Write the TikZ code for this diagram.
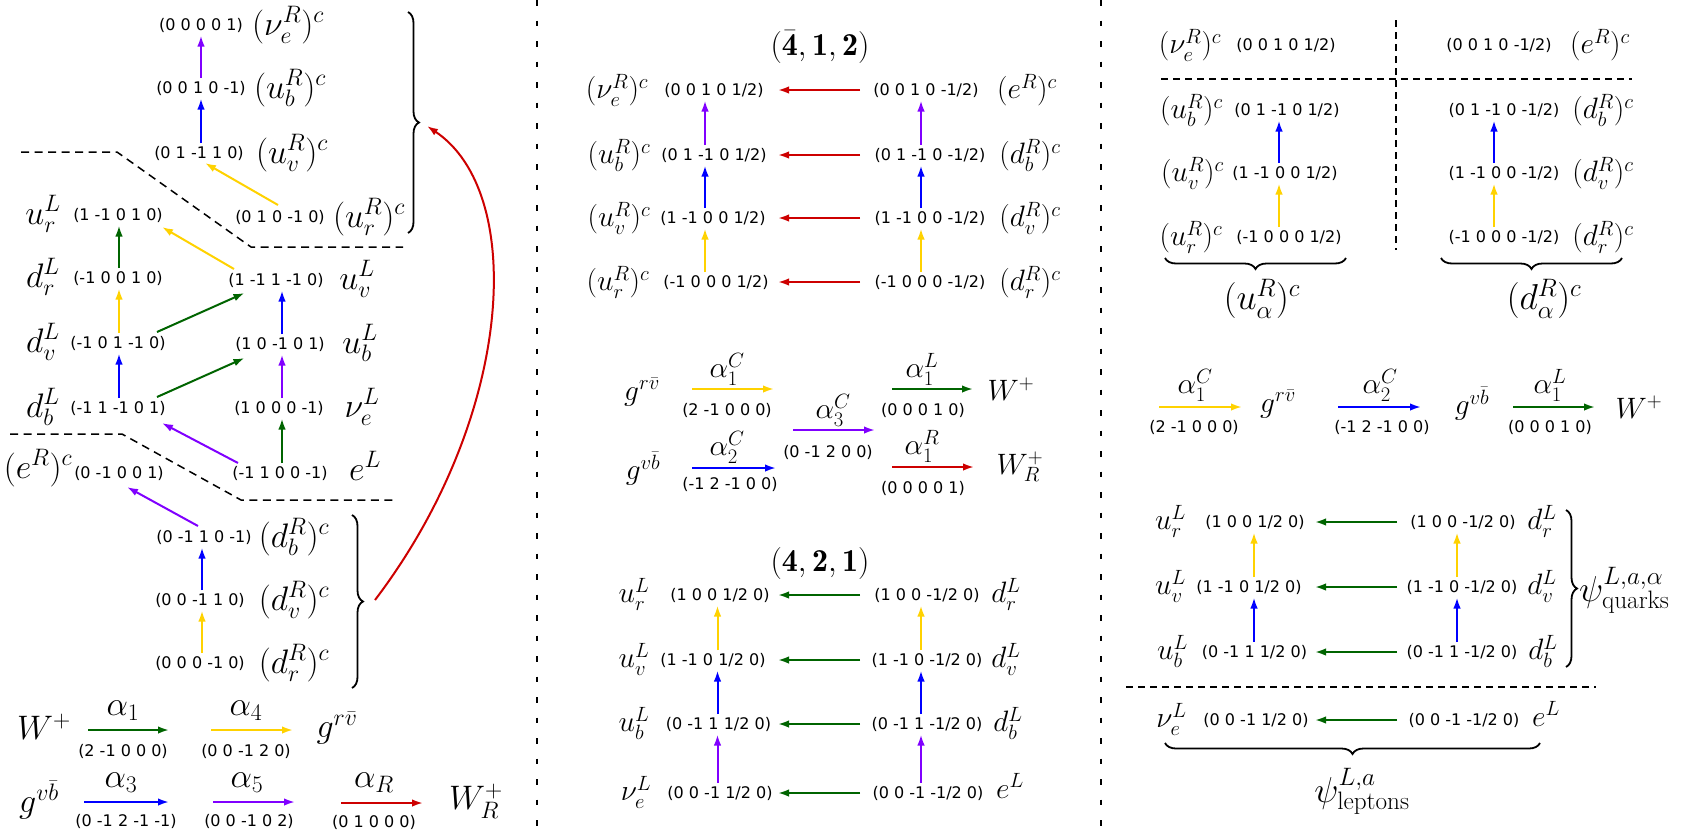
\RequirePackage{fix-cm}
\documentclass[tikz,border=0pt]{standalone}
\usepackage{fontspec}
\newfontfamily\vecfont{DejaVu Sans}
\usetikzlibrary{arrows.meta,calc,decorations.pathreplacing}
\definecolor{cgreen}{RGB}{0,100,0}
\definecolor{cyellow}{RGB}{255,210,0}
\definecolor{cblue}{RGB}{0,0,255}
\definecolor{cpurple}{RGB}{128,0,255}
\definecolor{cred}{RGB}{205,0,0}
\newcommand\vArrow[4]{\draw[ar,#1] ($(#2.center -| #4)+(0,-10)$) -- ($(#3.center -| #4)+(0,10.5)$);}
\newcommand\hArrow[5]{\draw[ar,#1] (#2.center -| #4) -- (#3.center -| #5);}
\begin{document}
\begin{tikzpicture}[x=1pt,y=-1pt,
  vec/.style={font=\vecfont\fontsize{16}{19}\selectfont, inner sep=1.5pt},
  lab/.style={font=\fontsize{29.5}{34}\selectfont, inner sep=1pt},
  labL/.style={font=\fontsize{34}{39}\selectfont, inner sep=1pt},
  big/.style={font=\fontsize{36}{42}\selectfont, inner sep=1pt},
  ttl/.style={font=\fontsize{32}{37}\selectfont, inner sep=1pt},
  ar/.style={line width=2pt, -{Latex[length=11pt,width=7.5pt]}},
  vsep/.style={line width=2.4pt, dash pattern=on 5.5pt off 15pt},
  dl/.style={line width=1.5pt, dash pattern=on 8pt off 5.5pt},
  dlr/.style={line width=1.5pt, dash pattern=on 7pt off 5pt},
  brc/.style={line width=1.8pt, decorate, decoration={brace, amplitude=11pt}},
  brcm/.style={line width=1.8pt, decorate, decoration={brace, amplitude=11pt, mirror}},
]
\fill[white] (0,0) rectangle (1698,833);
\useasboundingbox (0,0) rectangle (1698,833);
% separators
\draw[vsep] (537,0) -- (537,833);
\draw[vsep] (1101,0) -- (1101,833);

% ================= LEFT PANEL =================
\node[vec] (La1) at (201,25) {(0 0 0 0 1)};
\node[labL] (La1n) at (288,25) {$(\nu_e^R)^c$};
\node[vec] (La2) at (201,88) {(0 0 1 0 -1)};
\node[labL] (La2n) at (290,88) {$(u_b^R)^c$};
\node[vec] (La3) at (199,153) {(0 1 -1 1 0)};
\node[labL] (La3n) at (292,153) {$(u_v^R)^c$};
\node[vec] (La4) at (280,217) {(0 1 0 -1 0)};
\node[labL] (La4n) at (369,217) {$(u_r^R)^c$};

\node[vec] (Lb1) at (118,215) {(1 -1 0 1 0)};
\node[labL] (Lb1n) at (43,214) {$u_r^L$};
\node[vec] (Lb2) at (118,278) {(-1 0 0 1 0)};
\node[labL] (Lb2n) at (43,277) {$d_r^L$};
\node[vec] (Lb3) at (118,343) {(-1 0 1 -1 0)};
\node[labL] (Lb3n) at (43,342) {$d_v^L$};
\node[vec] (Lb4) at (118,408) {(-1 1 -1 0 1)};
\node[labL] (Lb4n) at (43,407) {$d_b^L$};
\node[vec] (Lb5) at (119,473) {(0 -1 0 0 1)};
\node[labL] (Lb5n) at (38,468) {$(e^R)^c$};

\node[vec] (Lc1) at (276,280) {(1 -1 1 -1 0)};
\node[labL] (Lc1n) at (357,279) {$u_v^L$};
\node[vec] (Lc2) at (280,344) {(1 0 -1 0 1)};
\node[labL] (Lc2n) at (360,343) {$u_b^L$};
\node[vec] (Lc3) at (279,408) {(1 0 0 0 -1)};
\node[labL] (Lc3n) at (362,407) {$\nu_e^L$};
\node[vec] (Lc4) at (280,473) {(-1 1 0 0 -1)};
\node[labL] (Lc4n) at (365,466) {$e^L$};

\node[vec] (Ld1) at (204,537) {(0 -1 1 0 -1)};
\node[labL] (Ld1n) at (294,537) {$(d_b^R)^c$};
\node[vec] (Ld2) at (200,600) {(0 0 -1 1 0)};
\node[labL] (Ld2n) at (294,600) {$(d_v^R)^c$};
\node[vec] (Ld3) at (200,663) {(0 0 0 -1 0)};
\node[labL] (Ld3n) at (294,663) {$(d_r^R)^c$};

\coordinate (xA) at (201,0);
\coordinate (xB) at (119,0);
\coordinate (xC) at (282,0);
\coordinate (xD) at (202,0);
\vArrow{cpurple}{La2}{La1}{xA}
\vArrow{cblue}{La3}{La2}{xA}
\vArrow{cgreen}{Lb2}{Lb1}{xB}
\vArrow{cyellow}{Lb3}{Lb2}{xB}
\vArrow{cblue}{Lb4}{Lb3}{xB}
\vArrow{cblue}{Lc2}{Lc1}{xC}
\vArrow{cpurple}{Lc3}{Lc2}{xC}
\vArrow{cgreen}{Lc4}{Lc3}{xC}
\vArrow{cblue}{Ld2}{Ld1}{xD}
\vArrow{cyellow}{Ld3}{Ld2}{xD}
\draw[ar,cyellow] ($(La4.center)+(-2,-12)$) -- ($(La3.center)+(6,10)$);
\draw[ar,cyellow] ($(Lc1.center)+(-42,-11)$) -- ($(Lb1.center)+(44,12)$);
\draw[ar,cgreen] ($(Lb3.center)+(39,-11)$) -- ($(Lc1.center)+(-31.5,13)$);
\draw[ar,cgreen] ($(Lb4.center)+(39,-11)$) -- ($(Lc2.center)+(-35.5,14)$);
\draw[ar,cpurple] ($(Lc4.center)+(-42,-10)$) -- ($(Lb4.center)+(44,15)$);
\draw[ar,cpurple] ($(Ld1.center)+(-6,-11)$) -- ($(Lb5.center)+(8,14)$);

\draw[dl] (21,152) -- (117,152) -- (251,247) -- (403,247);
\draw[dl] (10,434) -- (122,434) -- (241,500) -- (393,500);

\draw[brc] (408,12) -- (408,233);
\draw[brc] (352,515) -- (352,688);
\coordinate (b1tip) at (427,126);
\coordinate (b2tip) at (375,600);
\draw[ar,cred] (b2tip) .. controls (514,417) and (527,193) .. (b1tip);

% left gauge rows
\node[labL] (W1) at (44,727) {$W^+$};
\node[labL] (G1) at (337,728) {$g^{r\bar v}$};
\node[labL] (G2) at (39,800) {$g^{v\bar b}$};
\node[labL] (WR1) at (476,801) {$W_R^+$};
\coordinate (p1a) at (88,730); \coordinate (p1b) at (169,730);
\coordinate (p2a) at (211,730); \coordinate (p2b) at (293,730);
\coordinate (p3a) at (84,802); \coordinate (p3b) at (169,802);
\coordinate (p4a) at (213,802); \coordinate (p4b) at (295,802);
\coordinate (p5a) at (341,803); \coordinate (p5b) at (423,803);
\draw[ar,cgreen] (p1a) -- (p1b);
\draw[ar,cyellow] (p2a) -- (p2b);
\draw[ar,cblue] (p3a) -- (p3b);
\draw[ar,cpurple] (p4a) -- (p4b);
\draw[ar,cred] (p5a) -- (p5b);
\node[labL] (a1) at (123,711) {$\alpha_1$};
\node[vec] (a1v) at (123,751) {(2 -1 0 0 0)};
\node[labL] (a4) at (246,711) {$\alpha_4$};
\node[vec] (a4v) at (246,751) {(0 0 -1 2 0)};
\node[labL] (a3) at (121,783) {$\alpha_3$};
\node[vec] (a3v) at (126,821) {(0 -1 2 -1 -1)};
\node[labL] (a5) at (247,783) {$\alpha_5$};
\node[vec] (a5v) at (249,821) {(0 0 -1 0 2)};
\node[labL] (aR) at (374,783) {$\alpha_R$};
\node[vec] (aRv) at (374,822) {(0 1 0 0 0)};

% ================= MIDDLE PANEL =================
\node[ttl] (T1) at (820,47) {$(\bar{\mathbf{4}},\mathbf{1},\mathbf{2})$};
\node[vec] (Ma1) at (714,90) {(0 0 1 0 1/2)};
\node[vec] (Ma2) at (714,155) {(0 1 -1 0 1/2)};
\node[vec] (Ma3) at (713,218) {(1 -1 0 0 1/2)};
\node[vec] (Ma4) at (716,282) {(-1 0 0 0 1/2)};
\node[vec] (Mb1) at (926,90) {(0 0 1 0 -1/2)};
\node[vec] (Mb2) at (930,155) {(0 1 -1 0 -1/2)};
\node[vec] (Mb3) at (930,218) {(1 -1 0 0 -1/2)};
\node[vec] (Mb4) at (930,282) {(-1 0 0 0 -1/2)};
\node[lab] (Ma1n) at (617,90) {$(\nu_e^R)^c$};
\node[lab] (Ma2n) at (619,155) {$(u_b^R)^c$};
\node[lab] (Ma3n) at (619,218) {$(u_v^R)^c$};
\node[lab] (Ma4n) at (618,282) {$(u_r^R)^c$};
\node[lab] (Mb1n) at (1027,90) {$(e^R)^c$};
\node[lab] (Mb2n) at (1030,155) {$(d_b^R)^c$};
\node[lab] (Mb3n) at (1030,218) {$(d_v^R)^c$};
\node[lab] (Mb4n) at (1030,282) {$(d_r^R)^c$};
\coordinate (xM1) at (705,0);
\coordinate (xM2) at (921,0);
\coordinate (xM3) at (717.5,0);
\coordinate (xMs) at (860,0);
\coordinate (xMt) at (778,0);
\hArrow{cred}{Mb1}{Ma1}{xMs}{xMt}
\hArrow{cred}{Mb2}{Ma2}{xMs}{xMt}
\hArrow{cred}{Mb3}{Ma3}{xMs}{xMt}
\hArrow{cred}{Mb4}{Ma4}{xMs}{xMt}
\vArrow{cpurple}{Ma2}{Ma1}{xM1}
\vArrow{cblue}{Ma3}{Ma2}{xM1}
\vArrow{cyellow}{Ma4}{Ma3}{xM1}
\vArrow{cpurple}{Mb2}{Mb1}{xM2}
\vArrow{cblue}{Mb3}{Mb2}{xM2}
\vArrow{cyellow}{Mb4}{Mb3}{xM2}

% middle gauge
\node[lab] (G3) at (642,392) {$g^{r\bar v}$};
\node[lab] (G4) at (643,469) {$g^{v\bar b}$};
\node[lab] (W2) at (1011,389) {$W^+$};
\node[lab] (WR2) at (1020,467) {$W_R^+$};
\coordinate (q1a) at (692,389); \coordinate (q1b) at (774,389);
\coordinate (q2a) at (692,468); \coordinate (q2b) at (776,468);
\coordinate (q3a) at (793,430); \coordinate (q3b) at (875,430);
\coordinate (q4a) at (892,389); \coordinate (q4b) at (973,389);
\coordinate (q5a) at (892,467); \coordinate (q5b) at (974,467);
\draw[ar,cyellow] (q1a) -- (q1b);
\draw[ar,cblue] (q2a) -- (q2b);
\draw[ar,cpurple] (q3a) -- (q3b);
\draw[ar,cgreen] (q4a) -- (q4b);
\draw[ar,cred] (q5a) -- (q5b);
\node[lab] (b1) at (727,369) {$\alpha_1^C$};
\node[vec] (b1v) at (727,410) {(2 -1 0 0 0)};
\node[lab] (b2) at (727,447) {$\alpha_2^C$};
\node[vec] (b2v) at (730,484) {(-1 2 -1 0 0)};
\node[lab] (b3) at (833,410) {$\alpha_3^C$};
\node[vec] (b3v) at (828,452) {(0 -1 2 0 0)};
\node[lab] (b4) at (922,369) {$\alpha_1^L$};
\node[vec] (b4v) at (923,410) {(0 0 0 1 0)};
\node[lab] (b5) at (922,446) {$\alpha_1^R$};
\node[vec] (b5v) at (923,488) {(0 0 0 0 1)};

% (4,2,1)
\node[ttl] (T2) at (820,563) {$(\mathbf{4},\mathbf{2},\mathbf{1})$};
\node[vec] (Mc1) at (720,595) {(1 0 0 1/2 0)};
\node[vec] (Mc2) at (713,660) {(1 -1 0 1/2 0)};
\node[vec] (Mc3) at (718.5,724) {(0 -1 1 1/2 0)};
\node[vec] (Mc4) at (720,793) {(0 0 -1 1/2 0)};
\node[vec] (Md1) at (927,595) {(1 0 0 -1/2 0)};
\node[vec] (Md2) at (927,660) {(1 -1 0 -1/2 0)};
\node[vec] (Md3) at (927,724) {(0 -1 1 -1/2 0)};
\node[vec] (Md4) at (928,793) {(0 0 -1 -1/2 0)};
\node[lab] (Mc1n) at (634,594) {$u_r^L$};
\node[lab] (Mc2n) at (634,659) {$u_v^L$};
\node[lab] (Mc3n) at (634,723) {$u_b^L$};
\node[lab] (Mc4n) at (636,792) {$\nu_e^L$};
\node[lab] (Md1n) at (1006,594) {$d_r^L$};
\node[lab] (Md2n) at (1006,659) {$d_v^L$};
\node[lab] (Md3n) at (1008,723) {$d_b^L$};
\node[lab] (Md4n) at (1010,786) {$e^L$};
\hArrow{cgreen}{Md1}{Mc1}{xMs}{xMt}
\hArrow{cgreen}{Md2}{Mc2}{xMs}{xMt}
\hArrow{cgreen}{Md3}{Mc3}{xMs}{xMt}
\hArrow{cgreen}{Md4}{Mc4}{xMs}{xMt}
\vArrow{cyellow}{Mc2}{Mc1}{xM3}
\vArrow{cblue}{Mc3}{Mc2}{xM3}
\vArrow{cpurple}{Mc4}{Mc3}{xM3}
\vArrow{cyellow}{Md2}{Md1}{xM2}
\vArrow{cblue}{Md3}{Md2}{xM2}
\vArrow{cpurple}{Md4}{Md3}{xM2}

% ================= RIGHT PANEL =================
\node[vec] (Ra1) at (1286,45) {(0 0 1 0 1/2)};
\node[vec] (Ra2) at (1287,110) {(0 1 -1 0 1/2)};
\node[vec] (Ra3) at (1285,173) {(1 -1 0 0 1/2)};
\node[vec] (Ra4) at (1289,237) {(-1 0 0 0 1/2)};
\node[vec] (Rb1) at (1499,45) {(0 0 1 0 -1/2)};
\node[vec] (Rb2) at (1504,110) {(0 1 -1 0 -1/2)};
\node[vec] (Rb3) at (1504,173) {(1 -1 0 0 -1/2)};
\node[vec] (Rb4) at (1504,237) {(-1 0 0 0 -1/2)};
\node[lab] (Ra1n) at (1190,45) {$(\nu_e^R)^c$};
\node[lab] (Ra2n) at (1191.5,110) {$(u_b^R)^c$};
\node[lab] (Ra3n) at (1192.5,173) {$(u_v^R)^c$};
\node[lab] (Ra4n) at (1191,237) {$(u_r^R)^c$};
\node[lab] (Rb1n) at (1600,45) {$(e^R)^c$};
\node[lab] (Rb2n) at (1603,110) {$(d_b^R)^c$};
\node[lab] (Rb3n) at (1603,173) {$(d_v^R)^c$};
\node[lab] (Rb4n) at (1603,237) {$(d_r^R)^c$};
\coordinate (xR1) at (1279,0);
\coordinate (xR2) at (1494,0);
\vArrow{cblue}{Ra3}{Ra2}{xR1}
\vArrow{cyellow}{Ra4}{Ra3}{xR1}
\vArrow{cblue}{Rb3}{Rb2}{xR2}
\vArrow{cyellow}{Rb4}{Rb3}{xR2}
\draw[dlr] (1161,79) -- (1632,79);
\draw[dlr] (1396,20) -- (1396,250);
\draw[brcm] (1165,258) -- (1346,258);
\draw[brcm] (1441,258) -- (1622,258);
\node[big] (Ua) at (1262,299) {$(u_\alpha^R)^c$};
\node[big] (Da) at (1544,299) {$(d_\alpha^R)^c$};

% right gauge
\coordinate (r1a) at (1159,407); \coordinate (r1b) at (1242,407);
\coordinate (r2a) at (1338,407); \coordinate (r2b) at (1421,407);
\coordinate (r3a) at (1513,407); \coordinate (r3b) at (1595,407);
\draw[ar,cyellow] (r1a) -- (r1b);
\draw[ar,cblue] (r2a) -- (r2b);
\draw[ar,cgreen] (r3a) -- (r3b);
\node[lab] (c1) at (1195,385) {$\alpha_1^C$};
\node[vec] (c1v) at (1194,427) {(2 -1 0 0 0)};
\node[lab] (c2) at (1380,385) {$\alpha_2^C$};
\node[vec] (c2v) at (1382,427) {(-1 2 -1 0 0)};
\node[lab] (c3) at (1550,385) {$\alpha_1^L$};
\node[vec] (c3v) at (1550,427) {(0 0 0 1 0)};
\node[lab] (G5) at (1278,404) {$g^{r\bar v}$};
\node[lab] (G6) at (1472,404) {$g^{v\bar b}$};
\node[lab] (W3) at (1639,407) {$W^+$};

% right lower
\node[vec] (Rc1) at (1255,522) {(1 0 0 1/2 0)};
\node[vec] (Rc2) at (1249,587) {(1 -1 0 1/2 0)};
\node[vec] (Rc3) at (1254.5,652) {(0 -1 1 1/2 0)};
\node[vec] (Rd1) at (1463,522) {(1 0 0 -1/2 0)};
\node[vec] (Rd2) at (1462,587) {(1 -1 0 -1/2 0)};
\node[vec] (Rd3) at (1462,652) {(0 -1 1 -1/2 0)};
\node[lab] (Rc1n) at (1170.5,521) {$u_r^L$};
\node[lab] (Rc2n) at (1170.5,586) {$u_v^L$};
\node[lab] (Rc3n) at (1172.5,651) {$u_b^L$};
\node[lab] (Rd1n) at (1542,521) {$d_r^L$};
\node[lab] (Rd2n) at (1542,586) {$d_v^L$};
\node[lab] (Rd3n) at (1543,651) {$d_b^L$};
\coordinate (xR3) at (1254,0);
\coordinate (xR4) at (1457,0);
\coordinate (xRs) at (1397,0);
\coordinate (xRt) at (1315,0);
\hArrow{cgreen}{Rd1}{Rc1}{xRs}{xRt}
\hArrow{cgreen}{Rd2}{Rc2}{xRs}{xRt}
\hArrow{cgreen}{Rd3}{Rc3}{xRs}{xRt}
\vArrow{cyellow}{Rc2}{Rc1}{xR3}
\vArrow{cblue}{Rc3}{Rc2}{xR3}
\vArrow{cyellow}{Rd2}{Rd1}{xR4}
\vArrow{cblue}{Rd3}{Rd2}{xR4}
\draw[brc] (1566,510) -- (1566,667);
\node[big, anchor=west] (Pq) at (1578,590) {$\psi^{L,a,\alpha}_{\mathrm{quarks}}$};
\draw[dlr] (1126,687) -- (1596,687);
\node[vec] (Re1) at (1256,720) {(0 0 -1 1/2 0)};
\node[vec] (Rf1) at (1464,720) {(0 0 -1 -1/2 0)};
\node[lab] (Re1n) at (1171.5,719) {$\nu_e^L$};
\node[lab] (Rf1n) at (1546,714) {$e^L$};
\hArrow{cgreen}{Rf1}{Re1}{xRs}{xRt}
\draw[brcm] (1165,743) -- (1540,743);
\node[big] (Pl) at (1362,791) {$\psi^{L,a}_{\mathrm{leptons}}$};
\end{tikzpicture}
\end{document}
